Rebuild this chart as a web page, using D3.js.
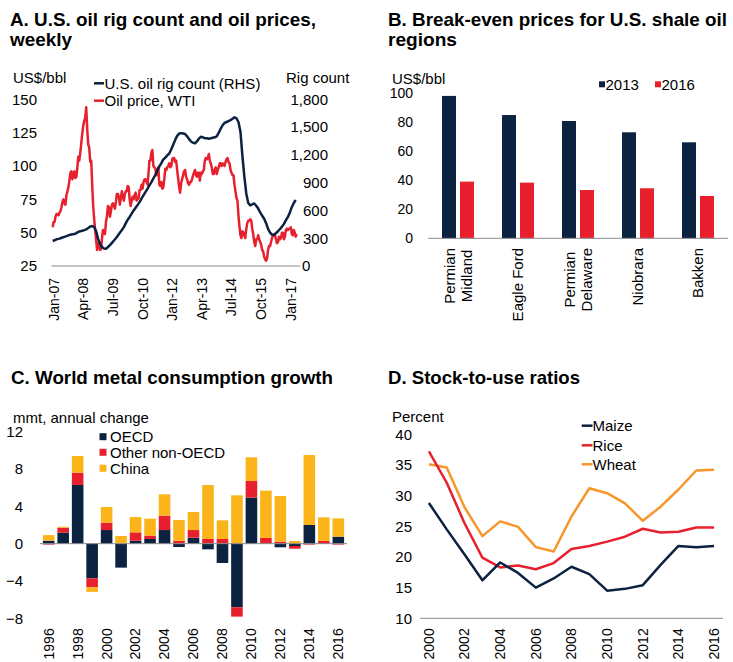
<!DOCTYPE html>
<html><head><meta charset="utf-8">
<script src="https://cdn.jsdelivr.net/npm/d3@7"></script>
<style>
body{margin:0;background:#fff}
svg text{font-family:"Liberation Sans",Arial,sans-serif;fill:#000}
svg text.title{font-family:"Liberation Sans Narrow","Arial Narrow","Liberation Sans",Arial,sans-serif;font-weight:bold}
</style></head><body>
<svg id="c" width="733" height="662"></svg>
<script>
// ---------------- DATA ----------------
// Panel A: U.S. oil rig count (monthly, Feb 2007 - May 2017)
const rigCount = [
 270,278,288,293,300,308,315,322,330,338,342,
 345,355,368,375,380,388,395,410,425,432,420,375,
 290,235,205,188,185,205,225,250,275,300,330,360,
 389,420,460,500,530,565,600,630,660,690,730,765,
 800,835,870,905,945,985,1030,1075,1110,1150,1170,1195,
 1215,1260,1310,1360,1405,1430,1435,1430,1425,1400,1370,1345,
 1330,1325,1345,1375,1395,1390,1380,1380,1375,1380,1385,1390,
 1400,1440,1480,1520,1545,1555,1565,1575,1590,1605,1595,1555,
 1450,1180,970,780,680,655,665,675,650,620,580,545,
 510,460,400,360,338,335,355,375,400,425,455,495,
 530,580,635,680,713
];
// Panel A: WTI oil price (twice a month, Feb 2007 - May 2017)
const oilPrice = [
 54,58, 58,62, 64,64, 63,65, 66,69, 73,75, 72,71, 78,81, 84,89, 95,96, 90,94,
 96,91, 92,99, 107,104, 110,117, 124,130, 134,136, 144,128, 116,114, 103,104, 86,70, 60,52, 44,37,
 41,43, 37,38, 46,52, 50,49, 58,62, 70,69, 62,66, 71,72, 70,68, 73,79, 79,77, 71,76,
 81,77, 74,79, 81,81, 85,84, 75,70, 74,77, 75,78, 80,74, 75,76, 82,82, 86,83, 88,90,
 90,88, 86,95, 104,104, 110,112, 100,99, 98,93, 96,99, 86,85, 88,83, 84,90, 98,97, 99,100,
 102,99, 100,105, 106,106, 103,104, 97,91, 84,80, 87,90, 93,96, 97,92, 90,87, 86,88, 88,90,
 93,95, 97,93, 92,95, 95,89, 95,94, 96,97, 104,106, 105,106, 109,104, 102,99, 94,94, 97,99,
 94,97, 99,102, 102,100, 102,101, 100,103, 105,106, 103,102, 97,95, 93,93, 86,81, 76,74, 63,55,
 48,46, 51,50, 48,46, 53,57, 59,59, 60,59, 53,49, 43,40, 45,45, 48,45, 43,41, 37,36,
 32,30, 29,31, 37,40, 40,43, 46,48, 49,48, 45,42, 43,47, 45,46, 50,50, 45,47, 52,53,
 52,53, 53,54, 49,48, 52,50, 47,49
];
const priceTicks = [25,50,75,100,125,150];
const rigTicks = [0,300,600,900,1200,1500,1800];
const dateTickLabels = ["2007-01","2008-04","2009-07","2010-10","2012-01","2013-04","2014-07","2015-10","2017-01"];

// Panel B: break-even prices
const regions = ["Permian\nMidland","Eagle Ford","Permian\nDelaware","Niobrara","Bakken"];
const be2013 = [98.2, 85, 80.9, 73.1, 66.2];
const be2016 = [39.1, 38.4, 33.3, 34.5, 29.2];
const beTicks = [0,20,40,60,80,100];

// Panel C: world metal consumption growth
const metalYears = d3.range(1996, 2017);
const oecd  = [0.32,1.18,6.29,-3.71,1.46,-2.57,0.32,0.5,1.46,-0.36,0.64,-0.61,-2.07,-6.82,4.93,0,-0.39,-0.25,2.0,0,0.75];
const otherNonOecd = [-0.1,0.53,1.32,-0.96,0.79,0,0.89,0.36,1.54,0.29,0.82,0.5,0.5,-1.0,1.79,0.61,0.21,-0.29,-0.1,0.29,-0.1];
const china = [0.6,0.1,1.79,-0.5,1.68,0.82,1.64,1.82,2.29,2.25,1.93,5.79,2.0,5.18,2.54,5.07,4.9,0.29,7.5,2.53,1.96];
const metalTicks = [-8,-4,0,4,8,12];

// Panel D: stock-to-use ratios
const stockYears = d3.range(2000, 2017);
const maize = [28.8,24.5,20.4,16.2,19.1,17.4,15.0,16.5,18.4,17.2,14.5,14.8,15.4,18.7,21.8,21.6,21.8];
const rice  = [37.2,32.1,25.5,19.9,18.3,18.6,18.0,19.0,21.3,21.8,22.5,23.3,24.6,24.0,24.1,24.8,24.8];
const wheat = [35.1,34.6,28.1,23.4,25.8,24.9,21.6,20.9,26.6,31.2,30.4,28.75,25.9,28.2,31.0,34.1,34.2];
const stockTicks = [10,15,20,25,30,35,40];

// ---------------- STYLE ----------------
const NAVY="#0c2241", RED="#e8202e", GOLD="#fbb51b", ORANGE="#f7962b", AXIS="#8a8a8a";
const FS=15, TFS=14;
const svg = d3.select("#c");

function title(x,y,txt,len){
  svg.append("text").attr("class","title").attr("x",x).attr("y",y)
    .attr("font-size",19).attr("textLength",len).attr("lengthAdjust","spacingAndGlyphs").text(txt);
}
title(10,25.5,"A. U.S. oil rig count and oil prices,",306);
title(10,46,"weekly",62);
title(388,25.5,"B. Break-even prices for U.S. shale oil",339);
title(388,46,"regions",69);
title(11,384,"C. World metal consumption growth",322);
title(388,384,"D. Stock-to-use ratios",192);

function label(g,x,y,txt,anchor,size){
  return g.append("text").attr("x",x).attr("y",y).attr("dy","0.35em")
    .attr("text-anchor",anchor||"start").attr("font-size",size||FS).text(txt);
}
function styleAxis(g,size){
  g.select(".domain").remove();
  g.selectAll(".tick line").remove();
  g.attr("font-family",null).attr("font-size",null);
  g.selectAll("text").attr("font-size",size||FS).attr("fill","#000");
}
function rotateLabels(g,shift){
  g.selectAll(".tick text").attr("transform","rotate(-90)")
    .attr("text-anchor","end").attr("x",0).attr("y",shift||0).attr("dy","0.35em");
}

// ---------------- PANEL A ----------------
const gA = svg.append("g");
const t0 = new Date(2007,1,1);
const rigDates = rigCount.map((d,i)=>d3.timeMonth.offset(t0,i));
const priceDates = oilPrice.map((d,i)=>{const m=d3.timeMonth.offset(t0,Math.floor(i/2)); return i%2 ? d3.timeDay.offset(m,15) : m;});
const xA = d3.scaleTime().domain([t0, priceDates[priceDates.length-1]]).range([52.7,296.7]);
const yL = d3.scaleLinear().domain([25,150]).range([266,99.3]);
const yR = d3.scaleLinear().domain([0,1800]).range([266,99.3]);

gA.append("g").attr("transform","translate(37,0)")
  .call(d3.axisLeft(yL).tickValues(priceTicks).tickSize(0).tickPadding(0))
  .call(g=>styleAxis(g));
const rAx = gA.append("g").attr("transform","translate(328,0)")
  .call(d3.axisLeft(yR).tickValues(rigTicks).tickSize(0).tickPadding(0).tickFormat(d3.format(",")))
  .call(g=>styleAxis(g));
rAx.selectAll(".tick text").filter(d=>d===0).attr("text-anchor","start").attr("x",-26);

const parseYM = d3.timeParse("%Y-%m");
gA.append("g").attr("transform","translate(0,278)")
  .call(d3.axisBottom(xA).tickValues(dateTickLabels.map(parseYM)).tickSize(0).tickFormat(d3.timeFormat("%b-%y")))
  .call(g=>styleAxis(g,TFS)).call(g=>rotateLabels(g,2.5));
gA.append("line").attr("x1",51.5).attr("x2",300).attr("y1",266).attr("y2",266).attr("stroke",AXIS);

gA.append("path").datum(oilPrice).attr("fill","none").attr("stroke",RED).attr("stroke-width",2.5)
  .attr("stroke-linejoin","round")
  .attr("d",d3.line().x((d,i)=>xA(priceDates[i])).y(d=>yL(d)));
gA.append("path").datum(rigCount).attr("fill","none").attr("stroke",NAVY).attr("stroke-width",2.5)
  .attr("stroke-linejoin","round")
  .attr("d",d3.line().x((d,i)=>xA(rigDates[i])).y(d=>yR(d)));

label(gA,13,78,"US$/bbl");
label(gA,286,78,"Rig count");
const legA = [["U.S. oil rig count (RHS)",NAVY,83.3],["Oil price, WTI",RED,100.7]];
legA.forEach(([t,c,y])=>{
  gA.append("line").attr("x1",94).attr("x2",104).attr("y1",y).attr("y2",y).attr("stroke",c).attr("stroke-width",2.5);
  label(gA,104.5,y,t);
});

// ---------------- PANEL B ----------------
const gB = svg.append("g");
const yB = d3.scaleLinear().domain([0,100]).range([238.3,93.3]);
const x0B = d3.scaleBand().domain(regions).range([428,728]).paddingInner(0.467).paddingOuter(0.2335);
const x1B = d3.scaleBand().domain(["2013","2016"]).range([0,x0B.bandwidth()]).paddingInner(0.222);
gB.append("g").attr("transform","translate(413,0)")
  .call(d3.axisLeft(yB).tickValues(beTicks).tickSize(0).tickPadding(0))
  .call(g=>styleAxis(g,14));
const grpB = gB.selectAll("g.grp").data(regions).join("g").attr("class","grp")
  .attr("transform",d=>`translate(${x0B(d)},0)`);
grpB.append("rect").attr("x",x1B("2013")).attr("width",x1B.bandwidth())
  .attr("y",(d,i)=>yB(be2013[i])).attr("height",(d,i)=>yB(0)-yB(be2013[i])).attr("fill",NAVY);
grpB.append("rect").attr("x",x1B("2016")).attr("width",x1B.bandwidth())
  .attr("y",(d,i)=>yB(be2016[i])).attr("height",(d,i)=>yB(0)-yB(be2016[i])).attr("fill",RED);
gB.append("line").attr("x1",428).attr("x2",728).attr("y1",238.3).attr("y2",238.3).attr("stroke",AXIS);
// category labels (rotated, multi-line centered)
regions.forEach(r=>{
  const lines = r.split("\n");
  const g = gB.append("g").attr("transform",`translate(${x0B(r)+x0B.bandwidth()/2},248)`);
  const texts = lines.map((l,k)=>g.append("text").attr("font-size",FS).attr("text-anchor","middle")
     .attr("transform","rotate(-90)").attr("dy","0.35em").attr("y",(k-(lines.length-1)/2)*17).text(l));
  const maxLen = d3.max(texts,t=>t.node().getComputedTextLength());
  texts.forEach(t=>t.attr("x",-maxLen/2));
});
label(gB,392,78.5,"US$/bbl");
[["2013",NAVY,599],["2016",RED,655]].forEach(([t,c,x])=>{
  gB.append("rect").attr("x",x).attr("y",81.3).attr("width",6).attr("height",6).attr("fill",c);
  label(gB,x+6.5,84.3,t);
});

// ---------------- PANEL C ----------------
const gC = svg.append("g");
const yC = d3.scaleLinear().domain([-8,12]).range([618.3,431.7]);
const xC = d3.scaleBand().domain(metalYears).range([40,347]).padding(0.2);
gC.append("g").attr("transform","translate(23,0)")
  .call(d3.axisLeft(yC).tickValues(metalTicks).tickSize(0).tickPadding(0))
  .call(g=>styleAxis(g));
const metalRows = metalYears.map((y,i)=>({year:y,OECD:oecd[i],Other:otherNonOecd[i],China:china[i]}));
const stackC = d3.stack().keys(["OECD","Other","China"]).offset(d3.stackOffsetDiverging)(metalRows);
const colC = {OECD:NAVY,Other:RED,China:GOLD};
gC.selectAll("g.ser").data(stackC).join("g").attr("class","ser").attr("fill",d=>colC[d.key])
  .selectAll("rect").data(d=>d).join("rect")
  .attr("x",d=>xC(d.data.year)).attr("width",xC.bandwidth())
  .attr("y",d=>yC(Math.max(d[0],d[1]))).attr("height",d=>Math.abs(yC(d[0])-yC(d[1])));
gC.append("line").attr("x1",40).attr("x2",347).attr("y1",yC(0)).attr("y2",yC(0)).attr("stroke",AXIS);
gC.append("g").attr("transform","translate(0,628.3)")
  .call(d3.axisBottom(xC).tickValues(metalYears.filter(y=>y%2===0)).tickSize(0).tickFormat(d3.format("d")))
  .call(g=>styleAxis(g,TFS)).call(g=>rotateLabels(g,0));
label(gC,13,417.5,"mmt, annual change");
[["OECD",NAVY,436.7],["Other non-OECD",RED,452.3],["China",GOLD,468.3]].forEach(([t,c,y])=>{
  gC.append("rect").attr("x",99.5).attr("y",y-3.5).attr("width",7).attr("height",7).attr("fill",c);
  label(gC,110,y,t);
});

// ---------------- PANEL D ----------------
const gD = svg.append("g");
const yD = d3.scaleLinear().domain([10,40]).range([618.3,434.3]);
const xD = d3.scaleBand().domain(stockYears).range([420,723]);
gD.append("g").attr("transform","translate(412,0)")
  .call(d3.axisLeft(yD).tickValues(stockTicks).tickSize(0).tickPadding(0))
  .call(g=>styleAxis(g));
gD.append("line").attr("x1",420).attr("x2",723).attr("y1",618.3).attr("y2",618.3).attr("stroke",AXIS);
const lineD = d3.line().x((d,i)=>xD(stockYears[i])+xD.bandwidth()/2).y(d=>yD(d));
[[wheat,ORANGE],[rice,RED],[maize,NAVY]].forEach(([s,c])=>{
  gD.append("path").datum(s).attr("fill","none").attr("stroke",c).attr("stroke-width",2.5)
    .attr("stroke-linejoin","round").attr("d",lineD);
});
gD.append("g").attr("transform","translate(0,628.3)")
  .call(d3.axisBottom(xD).tickValues(stockYears.filter(y=>y%2===0)).tickSize(0).tickFormat(d3.format("d")))
  .call(g=>styleAxis(g,TFS)).call(g=>rotateLabels(g,0));
label(gD,392,417,"Percent");
[["Maize",NAVY,425.7],["Rice",RED,445.3],["Wheat",ORANGE,464.3]].forEach(([t,c,y])=>{
  gD.append("line").attr("x1",581.7).attr("x2",592.5).attr("y1",y).attr("y2",y).attr("stroke",c).attr("stroke-width",2.5);
  label(gD,592.5,y,t);
});
</script>
</body></html>
